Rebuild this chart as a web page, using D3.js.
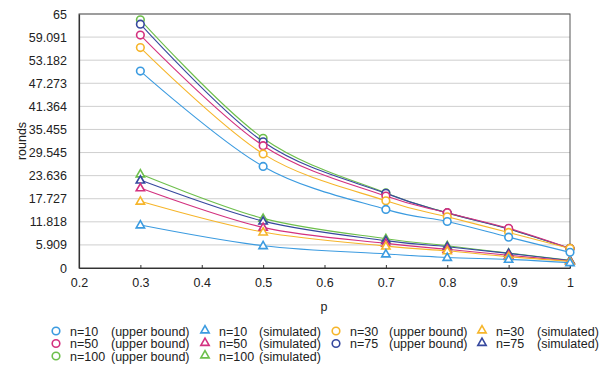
<!DOCTYPE html>
<html>
<head>
<meta charset="utf-8">
<script src="https://cdn.jsdelivr.net/npm/d3@7"></script>
<style>
  body { margin: 0; background: #fff; }
  svg { display: block; font-family: "Liberation Sans", Arial, sans-serif; }
</style>
</head>
<body>
<div id="chart"></div>
<script>
const w = 600;
const h = 372;

// data
const pValues = [0.3, 0.5, 0.7, 0.8, 0.9, 1];
const upper10 = [50.4, 26.0, 15.0, 11.9, 7.9, 4.0];
const upper30 = [56.4, 29.2, 17.2, 13.1, 9.1, 5.0];
const upper50 = [59.6, 31.3, 18.4, 14.15, 10.15, 5.0];
const upper75 = [62.4, 32.3, 19.1, 14.1, 10.0, 5.0];
const upper100 = [63.5, 33.2, 19.2, 14.1, 10.0, 5.0];
const sim10 = [11.0, 5.7, 3.6, 2.7, 2.2, 1.36];
const sim30 = [17.1, 9.2, 5.6, 4.4, 2.9, 1.7];
const sim50 = [20.5, 10.4, 6.3, 4.8, 3.25, 1.8];
const sim75 = [22.5, 12.0, 7.0, 5.45, 3.75, 1.9];
const sim100 = [24.05, 12.7, 7.5, 5.7, 3.8, 2.0];

const xTicks = [0.2, 0.3, 0.4, 0.5, 0.6, 0.7, 0.8, 0.9, 1];
const yTicks = [0, 5.909, 11.818, 17.727, 23.636, 29.545, 35.455, 41.364, 47.273, 53.182, 59.091, 65];

const series = [
  {name: 'n=10', kind: '(upper bound)', shape: 'circle', color: '#3b9be0', values: upper10},
  {name: 'n=10', kind: '(simulated)', shape: 'triangle', color: '#3b9be0', values: sim10},
  {name: 'n=30', kind: '(upper bound)', shape: 'circle', color: '#f6b52a', values: upper30},
  {name: 'n=30', kind: '(simulated)', shape: 'triangle', color: '#f6b52a', values: sim30},
  {name: 'n=50', kind: '(upper bound)', shape: 'circle', color: '#d3317f', values: upper50},
  {name: 'n=50', kind: '(simulated)', shape: 'triangle', color: '#d3317f', values: sim50},
  {name: 'n=75', kind: '(upper bound)', shape: 'circle', color: '#36489e', values: upper75},
  {name: 'n=75', kind: '(simulated)', shape: 'triangle', color: '#36489e', values: sim75},
  {name: 'n=100', kind: '(upper bound)', shape: 'circle', color: '#6dbf4b', values: upper100},
  {name: 'n=100', kind: '(simulated)', shape: 'triangle', color: '#6dbf4b', values: sim100}
];

const plotL = 79, plotR = 570, plotT = 14, plotB = 268;
const fontSize = 12.5;

const svg = d3.select('#chart').append('svg')
  .attr('width', w).attr('height', h);

const xScale = d3.scaleLinear().domain([0.2, 1]).range([plotL, plotR]);
const yScale = d3.scaleLinear().domain([0, 65]).range([plotB, plotT]);

// grid
svg.append('g')
  .selectAll('line')
  .data(yTicks)
  .enter().append('line')
  .attr('x1', plotL).attr('x2', plotR)
  .attr('y1', d => yScale(d)).attr('y2', d => yScale(d))
  .attr('stroke', '#cfcfcf').attr('stroke-width', 1);

// frame
svg.append('rect')
  .attr('x', plotL).attr('y', plotT)
  .attr('width', plotR - plotL).attr('height', plotB - plotT)
  .attr('fill', 'none').attr('stroke', '#555').attr('stroke-width', 1);

// y axis
const yAxis = d3.axisLeft(yScale)
  .tickValues(yTicks)
  .tickFormat(d => d === 0 || d === 65 ? String(d) : d3.format('.3f')(d))
  .tickSize(0).tickPadding(12);
const gy = svg.append('g').attr('transform', 'translate(' + plotL + ',0)').call(yAxis);
gy.select('.domain').attr('stroke', '#333').attr('stroke-width', 1.2);
gy.selectAll('text').attr('font-size', fontSize).attr('fill', '#222')
  .attr('font-family', '"Liberation Sans", Arial, sans-serif');

// x axis
const xAxis = d3.axisBottom(xScale)
  .tickValues(xTicks)
  .tickFormat(d => String(d))
  .tickSizeInner(-3).tickSizeOuter(0).tickPadding(10);
const gx = svg.append('g').attr('transform', 'translate(0,' + plotB + ')').call(xAxis);
gx.select('.domain').attr('stroke', '#333').attr('stroke-width', 1.2);
gx.selectAll('.tick line').attr('stroke', '#333');
gx.selectAll('text').attr('font-size', fontSize).attr('fill', '#222')
  .attr('font-family', '"Liberation Sans", Arial, sans-serif');

// axis titles
svg.append('text')
  .attr('transform', 'translate(26,141) rotate(-90)')
  .attr('text-anchor', 'middle')
  .attr('font-size', fontSize).attr('fill', '#222')
  .text('rounds');
svg.append('text')
  .attr('x', 324).attr('y', 311)
  .attr('text-anchor', 'middle')
  .attr('font-size', fontSize).attr('fill', '#222')
  .text('p');

const line = d3.line()
  .x((d, i) => xScale(pValues[i]))
  .y(d => yScale(d))
  .curve(d3.curveCardinal);

const triangle = d3.symbol().type(d3.symbolTriangle).size(30);

function drawMarker(g, shape, color, x, y) {
  if (shape === 'circle') {
    g.append('circle')
      .attr('cx', x).attr('cy', y).attr('r', 3.8)
      .attr('fill', '#fff').attr('stroke', color).attr('stroke-width', 1.6);
  } else {
    g.append('path')
      .attr('d', triangle())
      .attr('transform', 'translate(' + x + ',' + (y + 0.5) + ')')
      .attr('fill', '#fff').attr('stroke', color).attr('stroke-width', 1.6);
  }
}

// draw series, last one first
series.slice().reverse().forEach(s => {
  const g = svg.append('g');
  g.append('path')
    .attr('d', line(s.values))
    .attr('fill', 'none')
    .attr('stroke', s.color)
    .attr('stroke-width', 1.1);
  s.values.forEach((v, i) => drawMarker(g, s.shape, s.color, xScale(pValues[i]), yScale(v)));
});

// legend
const colX = [56, 205, 336, 482];
const nameOff = 14;
const kindOff = [55, 54, 53, 55];
const rowY = [331, 343.5, 356];
series.forEach((s, i) => {
  const col = i % 4, row = Math.floor(i / 4);
  const g = svg.append('g');
  drawMarker(g, s.shape, s.color, colX[col], rowY[row] - (s.shape === 'triangle' ? 1 : 0));
  g.append('text')
    .attr('x', colX[col] + nameOff).attr('y', rowY[row] + 4.5)
    .attr('font-size', fontSize).attr('fill', '#222')
    .text(s.name);
  g.append('text')
    .attr('x', colX[col] + kindOff[col]).attr('y', rowY[row] + 4.5)
    .attr('font-size', fontSize).attr('fill', '#222')
    .text(s.kind);
});
</script>
</body>
</html>
